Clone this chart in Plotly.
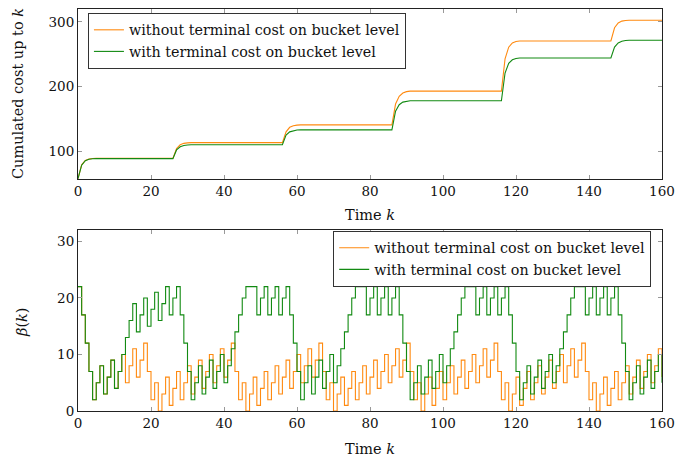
import plotly.graph_objects as go

# ---------------- data ----------------
# Top panel: cumulated cost
cost_k = [0, 1, 2, 3, 4, 5, 26, 27, 28, 29, 30, 31, 56, 57, 58, 59, 60, 61,
          86, 87, 88, 89, 90, 91, 116, 117, 118, 119, 120, 121,
          146, 147, 148, 149, 150, 151, 160]
cost_without = [57.5, 79, 85.8, 88.0, 88.8, 89.0, 89.0, 104, 110, 112.2, 113.0, 113.4,
                113.4, 130, 137, 139.5, 140.4, 140.8, 140.8, 173, 185, 190, 192.2, 193.0,
                193.0, 243, 261, 267.5, 269.8, 270.5, 270.5, 291, 298.5, 301.3, 302.3, 302.7,
                302.7]
cost_with = [57.5, 78.5, 85.3, 87.6, 88.4, 88.6, 88.6, 102, 107, 109, 109.7, 110.0,
             110.0, 125, 130, 132, 132.8, 133.0, 133.0, 162, 172, 176, 177.5, 178.0,
             178.0, 221, 236, 241.5, 243.5, 244.2, 244.2, 261, 267.5, 270, 271.2, 271.6,
             271.6]

# Bottom panel: beta(k), k = 0..160
k_steps = list(range(161))
beta_without = [22, 17, 12, 7, 2, 5, 8, 3, 6, 9, 4, 7, 10, 5, 8, 11, 6, 9, 12, 7,
                2, 5, 0, 3, 6, 1, 4, 7, 2, 5, 8, 3, 6, 9, 4, 7, 10, 5, 8, 11,
                6, 9, 12, 7, 2, 5, 0, 3, 6, 1, 4, 7, 2, 5, 8, 3, 6, 9, 4, 7,
                10, 5, 8, 11, 6, 9, 12, 7, 2, 5, 0, 3, 6, 1, 4, 7, 2, 5, 8, 3,
                6, 9, 4, 7, 10, 5, 8, 11, 6, 9, 12, 7, 2, 5, 0, 3, 6, 1, 4, 7,
                2, 5, 8, 3, 6, 9, 4, 7, 10, 5, 8, 11, 6, 9, 12, 7, 2, 5, 0, 3,
                6, 1, 4, 7, 2, 5, 8, 3, 6, 9, 4, 7, 10, 5, 8, 11, 6, 9, 12, 7,
                2, 5, 0, 3, 6, 1, 4, 7, 2, 5, 8, 3, 6, 9, 4, 7, 10, 5, 8, 11,
                6]
beta_with = [22, 17, 12, 7, 2, 5, 8, 3, 6, 9, 4, 7, 10, 13, 16, 19, 14, 17, 20, 15,
             18, 21, 16, 19, 22, 17, 20, 22, 17, 12, 7, 2, 5, 8, 3, 6, 9, 4, 7, 10,
             5, 8, 11, 14, 17, 20, 22, 22, 22, 17, 20, 22, 17, 20, 22, 17, 20, 22, 17, 12,
             7, 2, 5, 8, 3, 6, 9, 4, 7, 10, 5, 8, 11, 14, 17, 20, 22, 22, 22, 17,
             20, 22, 17, 20, 22, 17, 20, 22, 17, 12, 7, 2, 5, 8, 3, 6, 9, 4, 7, 10,
             5, 8, 11, 14, 17, 20, 22, 22, 22, 17, 20, 22, 17, 20, 22, 17, 20, 22, 17, 12,
             7, 2, 5, 8, 3, 6, 9, 4, 7, 10, 5, 8, 11, 14, 17, 20, 22, 22, 22, 17,
             20, 22, 17, 20, 22, 17, 20, 22, 17, 12, 7, 2, 5, 8, 3, 6, 9, 4, 7, 10,
             5]

label_without = "without terminal cost on bucket level"
label_with = "with terminal cost on bucket level"
x_ticks = [0, 20, 40, 60, 80, 100, 120, 140, 160]
y1_ticks = [100, 200, 300]
y2_ticks = [0, 10, 20, 30]

ORANGE = "#ff8a10"
GREEN = "#128a12"
FONT = "DejaVu Serif"
FS = 13.5      # tick labels
FT = 14.5      # axis titles
FL = 14.3      # legend

fig = go.Figure()
fig.add_trace(go.Scatter(x=cost_k, y=cost_without, mode="lines", name=label_without,
                         line=dict(color=ORANGE, width=1.1), xaxis="x", yaxis="y",
                         legend="legend"))
fig.add_trace(go.Scatter(x=cost_k, y=cost_with, mode="lines", name=label_with,
                         line=dict(color=GREEN, width=1.1), xaxis="x", yaxis="y",
                         legend="legend"))
fig.add_trace(go.Scatter(x=k_steps, y=beta_without, mode="lines", name=label_without,
                         line=dict(color=ORANGE, width=1.1, shape="hv"), xaxis="x2", yaxis="y2",
                         legend="legend2"))
fig.add_trace(go.Scatter(x=k_steps, y=beta_with, mode="lines", name=label_with,
                         line=dict(color=GREEN, width=1.1, shape="hv"), xaxis="x2", yaxis="y2",
                         legend="legend2"))

axis_common = dict(showline=True, linecolor="#222", linewidth=1, mirror="ticks",
                   ticks="inside", ticklen=4, tickcolor="#999", showgrid=False,
                   zeroline=False, automargin=False,
                   tickfont=dict(family=FONT, size=FS, color="#111"))

fig.update_layout(
    width=678, height=456,
    margin=dict(l=78, r=16, t=9, b=45, autoexpand=False),
    paper_bgcolor="white", plot_bgcolor="white",
    font=dict(family=FONT, size=FS, color="#111"),
    xaxis=dict(domain=[0, 1], range=[0, 160], tickvals=x_ticks, anchor="y", **axis_common),
    yaxis=dict(domain=[0.577, 1], range=[57, 320], tickvals=y1_ticks, anchor="x", **axis_common),
    xaxis2=dict(domain=[0, 1], range=[0, 160], tickvals=x_ticks, anchor="y2", **axis_common),
    yaxis2=dict(domain=[0, 0.450], range=[0, 32], tickvals=y2_ticks, anchor="x2", **axis_common),
    legend=dict(x=0.017, y=0.99, xanchor="left", yanchor="top", bgcolor="white",
                bordercolor="#333", borderwidth=1, font=dict(family=FONT, size=FL),
                tracegroupgap=0, itemwidth=30),
    legend2=dict(x=0.437, y=0.4478, xanchor="left", yanchor="top", bgcolor="white",
                 bordercolor="#333", borderwidth=1, font=dict(family=FONT, size=FL),
                 tracegroupgap=0, itemwidth=30),
    showlegend=True,
    annotations=[
        dict(text="Time <i>k</i>", x=0.5, y=215, xref="paper", yref="paper",
             showarrow=False, font=dict(family=FONT, size=FT)),
        dict(text="Time <i>k</i>", x=0.5, y=449, xref="paper", yref="paper",
             showarrow=False, font=dict(family=FONT, size=FT)),
        dict(text="Cumulated cost up to <i>k</i>", x=18, y=94, xref="paper", yref="paper",
             showarrow=False, textangle=-90, font=dict(family=FONT, size=FT)),
        dict(text="<i>β</i>(<i>k</i>)", x=22, y=322, xref="paper", yref="paper",
             showarrow=False, textangle=-90, font=dict(family=FONT, size=FT)),
    ],
)

# convert pixel positions of annotations into paper coordinates
plot_l, plot_r, plot_t, plot_b = 78, 678 - 16, 9, 456 - 45
new_ann = []
for a in fig.layout.annotations:
    ax = a.x if a.x <= 1 else (a.x - plot_l) / (plot_r - plot_l)
    ay = (plot_b - a.y) / (plot_b - plot_t)
    new_ann.append(a.update(x=ax, y=ay, xanchor="center", yanchor="middle"))
fig.layout.annotations = new_ann

fig.write_html("out.html", config={"displayModeBar": False},
               post_script="document.body.style.margin='0';document.body.style.padding='0';")
